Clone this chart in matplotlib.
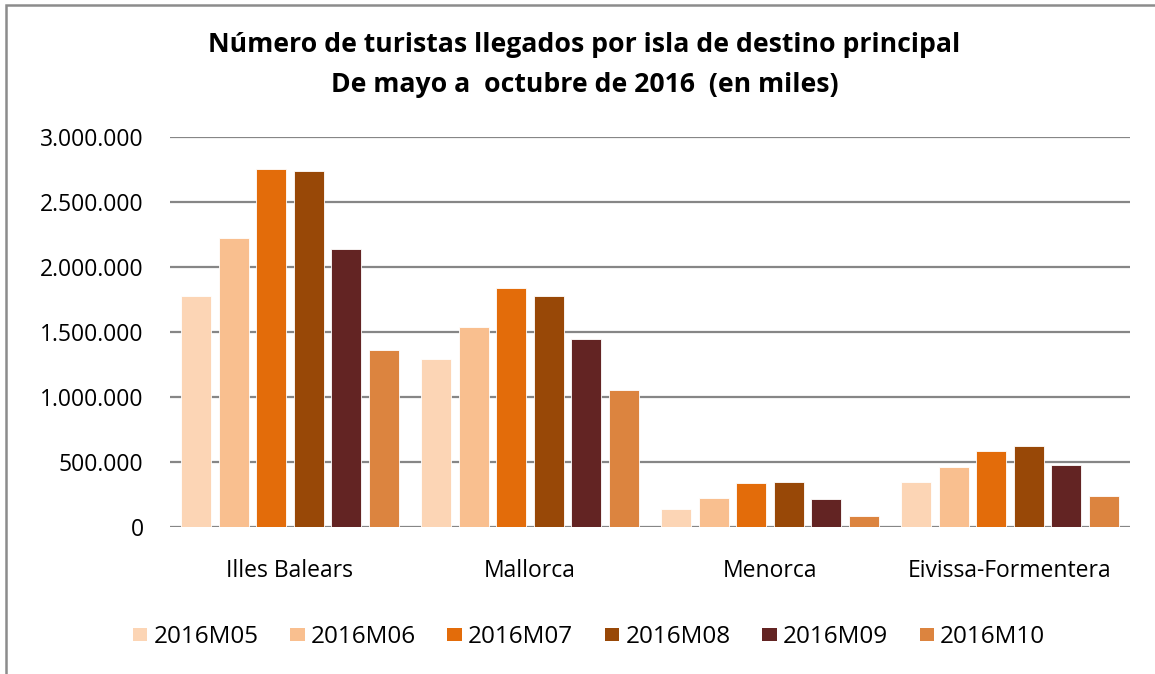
import numpy as np
import matplotlib
matplotlib.use('Agg')
import matplotlib.pyplot as plt
from matplotlib.patches import Rectangle, Patch
from matplotlib.ticker import FuncFormatter

plt.rcParams['font.family'] = ['Open Sans', 'DejaVu Sans']

# datos (turistas llegados)
islas = ['Illes Balears', 'Mallorca', 'Menorca', 'Eivissa-Formentera']
meses = ['2016M05', '2016M06', '2016M07', '2016M08', '2016M09', '2016M10']
m05 = [1775000, 1292000, 136000, 346000]
m06 = [2221000, 1536000, 226000, 464000]
m07 = [2754000, 1836000, 336000, 582000]
m08 = [2736000, 1777000, 344000, 621000]
m09 = [2136000, 1449000, 213000, 480000]
m10 = [1365000, 1051000, 85000, 236000]
series = [m05, m06, m07, m08, m09, m10]
colores = ['#FCD5B5', '#F9BF8F', '#E36C0A', '#984807', '#632423', '#DC843F']

fig = plt.figure(figsize=(11.55, 6.74), dpi=100)
ax = fig.add_axes([170 / 1155, 1 - 527 / 674, 960 / 1155, 390 / 674])

x = np.arange(len(islas))
paso = 0.156
ancho = 0.125
for i, (vals, col) in enumerate(zip(series, colores)):
    ax.bar(x + (i - 2.5) * paso, vals, width=ancho, color=col,
           edgecolor='white', linewidth=0.6, label=meses[i], zorder=3)

ax.set_xlim(-0.5, len(islas) - 0.5)
ax.set_ylim(0, 3000000)
ax.set_yticks(np.arange(0, 3000001, 500000))
ax.yaxis.set_major_formatter(FuncFormatter(lambda v, p: '{:,.0f}'.format(v).replace(',', '.')))
ax.set_xticks(x)
ax.set_xticklabels(islas)
ax.tick_params(axis='y', length=0, pad=19, labelsize=16.5)
ax.tick_params(axis='x', length=0, pad=23, labelsize=16.5)
ax.grid(axis='y', color='#868686', linewidth=1.6, zorder=0)
for s in ax.spines.values():
    s.set_visible(False)

fig.text(0.506, 1 - 45 / 674, 'Número de turistas llegados por isla de destino principal',
         ha='center', va='center', fontsize=19.2, fontweight='bold')
fig.text(0.506, 1 - 85 / 674, 'De mayo a  octubre de 2016  (en miles)',
         ha='center', va='center', fontsize=19.2, fontweight='bold')

handles = [Patch(facecolor=c, edgecolor='none') for c in colores]
fig.legend(handles, meses, loc='center', bbox_to_anchor=(589 / 1155, 1 - 637 / 674),
           ncol=6, frameon=False, fontsize=17.5, handlelength=0.6, handleheight=0.45,
           handletextpad=0.25, columnspacing=1.3)

# marco gris del gráfico
fig.patches.append(Rectangle((6 / 1155, -0.1), 1.2, 1 - 5 / 674 + 0.1, transform=fig.transFigure,
                             fill=False, edgecolor='#8c8c8c', linewidth=1.8))

fig.savefig('out.png', dpi=100)
